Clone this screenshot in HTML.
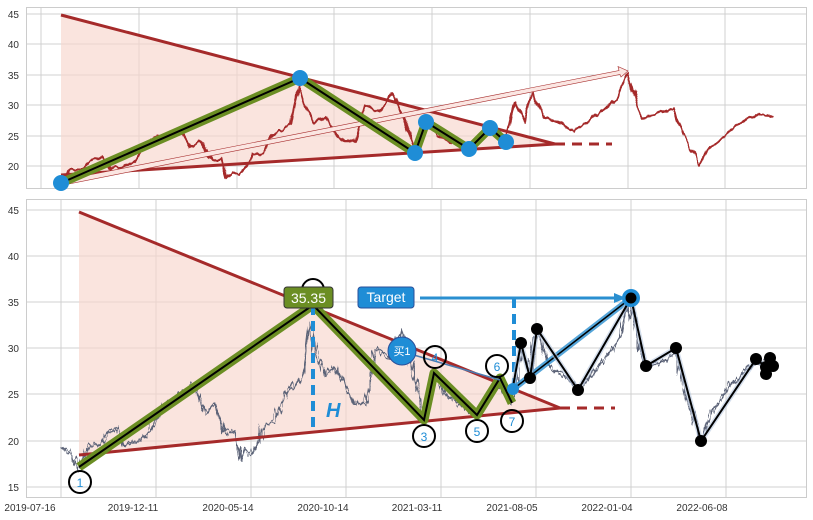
<!DOCTYPE html>
<html><head><meta charset="utf-8"><style>
html,body{margin:0;padding:0;background:#fff;}
svg{display:block;font-family:"Liberation Sans","Noto Sans CJK SC",sans-serif;}
</style></head><body>
<svg width="813" height="520" viewBox="0 0 813 520" xmlns="http://www.w3.org/2000/svg">
<defs>
<filter id="nb" filterUnits="userSpaceOnUse" x="0" y="190" width="813" height="330">
<feTurbulence type="fractalNoise" baseFrequency="0.3 0.02" numOctaves="2" seed="3" result="t"/>
<feDisplacementMap in="SourceGraphic" in2="t" scale="14" xChannelSelector="R" yChannelSelector="G"/>
</filter>
<filter id="nb2" filterUnits="userSpaceOnUse" x="0" y="190" width="813" height="330">
<feTurbulence type="fractalNoise" baseFrequency="0.2 0.03" numOctaves="2" seed="11" result="t"/>
<feDisplacementMap in="SourceGraphic" in2="t" scale="10" xChannelSelector="R" yChannelSelector="G"/>
</filter>
<filter id="nt" filterUnits="userSpaceOnUse" x="0" y="0" width="813" height="195">
<feTurbulence type="fractalNoise" baseFrequency="0.15 0.04" numOctaves="2" seed="5" result="t"/>
<feDisplacementMap in="SourceGraphic" in2="t" scale="7" xChannelSelector="R" yChannelSelector="G"/>
</filter>
</defs>
<rect width="813" height="520" fill="#fff"/>
<!-- top panel -->
<g stroke="#d0d0d0" stroke-width="1">
<line x1="27" y1="14" x2="807" y2="14"/><line x1="27" y1="44" x2="807" y2="44"/><line x1="27" y1="75" x2="807" y2="75"/><line x1="27" y1="105" x2="807" y2="105"/><line x1="27" y1="136" x2="807" y2="136"/><line x1="27" y1="166" x2="807" y2="166"/>
<line x1="41" y1="8" x2="41" y2="188"/><line x1="139" y1="8" x2="139" y2="188"/><line x1="237" y1="8" x2="237" y2="188"/><line x1="334" y1="8" x2="334" y2="188"/><line x1="432" y1="8" x2="432" y2="188"/><line x1="530" y1="8" x2="530" y2="188"/><line x1="628" y1="8" x2="628" y2="188"/><line x1="725" y1="8" x2="725" y2="188"/>
</g>
<rect x="26.5" y="7.5" width="780" height="181" fill="none" stroke="#ccc"/>
<g font-size="10" fill="#333" text-anchor="end">
<text x="19" y="18">45</text><text x="19" y="48">40</text><text x="19" y="79">35</text><text x="19" y="109">30</text><text x="19" y="140">25</text><text x="19" y="170">20</text>
</g>
<polygon points="61,15 61,175 555,144" fill="#f7d5cc" fill-opacity="0.65"/>
<polyline filter="url(#nt)" fill="none" stroke="#a52a2a" stroke-width="2.2" stroke-linejoin="round" points="61,184.3 70.3,169.1 82.6,169.1 92.9,159.9 101.1,156.9 108.3,169.1 123.7,166 134,159.9 149.4,141.6 164.8,135.5 180.2,129.4 190.4,147.7 200.7,141.6 211,159.9 221.2,159.9 226.4,178.2 231.5,172.1 238.7,175.2 246.9,166 252.1,153.8 262.3,153.8 272.6,135.5 282.9,129.4 291.1,123.3 298.3,86.7 303.4,105 313.7,123.3 324,117.2 334.2,129.4 344.5,141.6 354.8,141.6 365,105 380.4,111.1 392.8,92.8 403,117.2 415.3,150.8 425.6,120.3 436.9,135.5 452.3,141.6 469.8,149.5 483.1,135.5 493.4,129.4 505.7,141.6 515,102 524.2,123.3 531.4,92.8 544.8,117.2 560.1,123.3 573.5,131.2 585.8,123.3 601.2,111.1 616.6,98.9 628,72 637.2,105 643.3,117.2 657.7,114.2 674.1,108.1 683.4,135.5 693.7,153.8 699.8,164.8 709.1,147.7 724.5,135.5 739.9,123.3 756.3,114.2 770.7,115.4 773.8,117.2"/>
<line x1="61" y1="15" x2="555" y2="144" stroke="#a52a2a" stroke-width="3"/>
<line x1="61" y1="175" x2="555" y2="144" stroke="#a52a2a" stroke-width="3"/>
<line x1="555" y1="144" x2="612" y2="144" stroke="#a52a2a" stroke-width="3" stroke-dasharray="10,7"/>
<polygon points="61,180.5 619,70.5 618,66.5 628,71 621,77 620,74.5 61,185.5" fill="#fbe6e2" stroke="#a52a2a" stroke-width="0.6"/>
<polyline points="61,183 300,78 415,153 426,122 469,149 490,128 506,142" fill="none" stroke="#6b8e23" stroke-width="9" stroke-linejoin="round"/>
<polyline points="61,183 300,78 415,153 426,122 469,149 490,128 506,142" fill="none" stroke="#000" stroke-width="2"/>
<g fill="#1f8dd6"><circle cx="61" cy="183" r="8"/><circle cx="300" cy="78" r="8"/><circle cx="415" cy="153" r="8"/><circle cx="426" cy="122" r="8"/><circle cx="469" cy="149" r="8"/><circle cx="490" cy="128" r="8"/><circle cx="506" cy="142" r="8"/></g>

<!-- bottom panel -->
<g stroke="#d0d0d0" stroke-width="1">
<line x1="27" y1="210" x2="807" y2="210"/><line x1="27" y1="256" x2="807" y2="256"/><line x1="27" y1="302" x2="807" y2="302"/><line x1="27" y1="348" x2="807" y2="348"/><line x1="27" y1="394" x2="807" y2="394"/><line x1="27" y1="441" x2="807" y2="441"/><line x1="27" y1="487" x2="807" y2="487"/>
<line x1="61" y1="200" x2="61" y2="497"/><line x1="156" y1="200" x2="156" y2="497"/><line x1="251" y1="200" x2="251" y2="497"/><line x1="346" y1="200" x2="346" y2="497"/><line x1="441" y1="200" x2="441" y2="497"/><line x1="536" y1="200" x2="536" y2="497"/><line x1="631" y1="200" x2="631" y2="497"/><line x1="726" y1="200" x2="726" y2="497"/>
</g>
<rect x="26.5" y="199.5" width="780" height="298" fill="none" stroke="#ccc"/>
<g font-size="10" fill="#333" text-anchor="end">
<text x="19" y="214">45</text><text x="19" y="260">40</text><text x="19" y="306">35</text><text x="19" y="352">30</text><text x="19" y="398">25</text><text x="19" y="445">20</text><text x="19" y="491">15</text>
</g>
<g font-size="10" fill="#333" text-anchor="middle">
<text x="30" y="511">2019-07-16</text><text x="133" y="511">2019-12-11</text><text x="228" y="511">2020-05-14</text><text x="323" y="511">2020-10-14</text><text x="417" y="511">2021-03-11</text><text x="512" y="511">2021-08-05</text><text x="607" y="511">2022-01-04</text><text x="702" y="511">2022-06-08</text>
</g>
<polygon points="79,212 79,455 560,408" fill="#f7d5cc" fill-opacity="0.65"/>
<g fill="none" stroke="#5c6478" stroke-linejoin="round">
<polyline id="pb" filter="url(#nb)" stroke-width="1.5" points="61,448.2 70,451.9 76,463.9 79,468.5 88,445.5 100,445.5 110,431.6 118,427 125,445.5 140,440.9 150,431.6 165,403.9 180,394.7 195,385.5 205,413.2 215,403.9 225,431.6 235,431.6 240,459.3 245,450.1 252,454.7 260,440.9 265,422.4 275,422.4 285,394.7 295,385.5 303,376.2 310,320.9 315,348.6 325,376.2 335,367 345,385.5 355,403.9 365,403.9 375,348.6 390,357.8 402,330.1 412,367 424,417.8 434,371.6 445,394.7 460,403.9 477,415.9 490,394.7 500,385.5 512,403.9 521,343.9 530,376.2 537,330.1 550,367 565,376.2 578,388.2 590,376.2 605,357.8 620,339.3 631,300 640,348.6 646,367 660,362.4 676,353.2 685,394.7 695,422.4 701,439 710,413.2 725,394.7 740,376.2 756,362.4 770,364.2 773,367"/>
<polyline filter="url(#nb2)" stroke-width="1.2" points="61,448.2 70,451.9 76,463.9 79,468.5 88,445.5 100,445.5 110,431.6 118,427 125,445.5 140,440.9 150,431.6 165,403.9 180,394.7 195,385.5 205,413.2 215,403.9 225,431.6 235,431.6 240,459.3 245,450.1 252,454.7 260,440.9 265,422.4 275,422.4 285,394.7 295,385.5 303,376.2 310,320.9 315,348.6 325,376.2 335,367 345,385.5 355,403.9 365,403.9 375,348.6 390,357.8 402,330.1 412,367 424,417.8 434,371.6 445,394.7 460,403.9 477,415.9 490,394.7 500,385.5 512,403.9 521,343.9 530,376.2 537,330.1 550,367 565,376.2 578,388.2 590,376.2 605,357.8 620,339.3 631,300 640,348.6 646,367 660,362.4 676,353.2 685,394.7 695,422.4 701,439 710,413.2 725,394.7 740,376.2 756,362.4 770,364.2 773,367"/>
</g>
<line x1="79" y1="212" x2="560" y2="408" stroke="#a52a2a" stroke-width="3"/>
<line x1="79" y1="455" x2="560" y2="408" stroke="#a52a2a" stroke-width="3"/>
<line x1="560" y1="408" x2="615" y2="408" stroke="#a52a2a" stroke-width="3" stroke-dasharray="10,7"/>
<polyline points="79,467 313,305 424,420 434,373 477,415 500,378 512,403" fill="none" stroke="#6b8e23" stroke-width="9" stroke-linejoin="round"/>
<polyline points="79,467 313,305 424,420 434,373 477,415 500,378 512,403" fill="none" stroke="#000" stroke-width="2"/>
<line x1="313" y1="305" x2="313" y2="430" stroke="#1f8dd6" stroke-width="4" stroke-dasharray="10,6"/>
<text x="326" y="417" font-size="20" font-weight="bold" font-style="italic" fill="#1f8dd6">H</text>
<line x1="514" y1="298" x2="514" y2="392" stroke="#1f8dd6" stroke-width="4" stroke-dasharray="10,6"/>
<line x1="512" y1="390" x2="631" y2="298" stroke="#2a8fd0" stroke-width="6" stroke-opacity="0.8"/>
<line x1="512" y1="390" x2="631" y2="298" stroke="#000" stroke-width="1.5"/>
<polyline points="512,392 521,343 530,378 537,329 578,390 631,298 646,366 676,348 701,441 756,359 766,367 770,358 773,366 766,374" fill="none" stroke="#b8c8e0" stroke-width="5" stroke-opacity="0.6"/>
<polyline points="512,392 521,343 530,378 537,329 578,390 631,298 646,366 676,348 701,441 756,359 766,367 770,358 773,366 766,374" fill="none" stroke="#000" stroke-width="2"/>
<g fill="#000"><circle cx="521" cy="343" r="6"/><circle cx="530" cy="378" r="6"/><circle cx="537" cy="329" r="6"/><circle cx="578" cy="390" r="6"/><circle cx="646" cy="366" r="6"/><circle cx="676" cy="348" r="6"/><circle cx="701" cy="441" r="6"/><circle cx="756" cy="359" r="6"/><circle cx="766" cy="367" r="6"/><circle cx="770" cy="358" r="6"/><circle cx="773" cy="366" r="6"/><circle cx="766" cy="374" r="6"/></g>
<circle cx="631" cy="298" r="9" fill="#1f8dd6"/><circle cx="631" cy="298" r="5.5" fill="#000"/>
<circle cx="513" cy="389" r="6" fill="#1f8dd6"/>
<line x1="420" y1="298" x2="618" y2="298" stroke="#2a8fd0" stroke-width="3"/>
<polygon points="626,298 614,293 614,303" fill="#2a8fd0"/>
<line x1="400" y1="351" x2="500" y2="380" stroke="#4a7bb0" stroke-width="1.5"/>
<g fill="none" stroke="#000" stroke-width="2">
<circle cx="80" cy="482" r="11"/><circle cx="313" cy="290" r="11"/><circle cx="424" cy="436" r="11"/><circle cx="435" cy="357" r="11"/><circle cx="477" cy="431" r="11"/><circle cx="497" cy="366" r="11"/><circle cx="512" cy="421" r="11"/>
</g>
<g font-size="12" fill="#1f8dd6" text-anchor="middle">
<text x="80" y="487">1</text><text x="313" y="295">2</text><text x="424" y="441">3</text><text x="435" y="362">4</text><text x="477" y="436">5</text><text x="497" y="371">6</text><text x="512" y="426">7</text>
</g>
<rect x="284" y="287" width="49" height="21" rx="3" fill="#6b8e23" stroke="#333"/>
<text x="308.5" y="303" font-size="14" fill="#fff" text-anchor="middle">35.35</text>
<rect x="358" y="287" width="56" height="21" rx="3" fill="#1f8dd6" stroke="#2a4f9a"/>
<text x="386" y="302" font-size="14" fill="#fff" text-anchor="middle">Target</text>
<circle cx="402" cy="351" r="14" fill="#1f8dd6" stroke="#2a4f9a"/>
<text x="402" y="355" font-size="11" fill="#fff" text-anchor="middle">买1</text>
</svg>
</body></html>
